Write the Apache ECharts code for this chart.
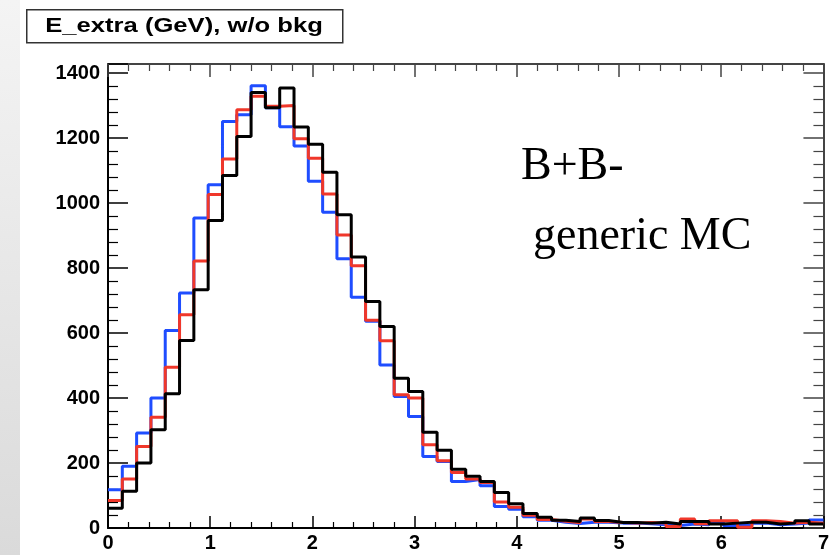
<!DOCTYPE html>
<html>
<head>
<meta charset="utf-8">
<script src="https://cdn.jsdelivr.net/npm/echarts@6/dist/echarts.min.js"></script>
<style>
html,body{margin:0;padding:0;background:#fff;}
#chart{width:832px;height:555px;}
</style>
</head>
<body>
<div id="chart"></div>
<script>
// Histogram: 50 bins from 0 to 7 GeV (bin width 0.14)
const xMin = 0;
const binWidth = 0.14;
const blueCounts = [118,190,292,400,608,723,954,1056,1251,1272,1361,1293,1235,1176,1067,972,829,710,636,502,405,343,220,205,143,149,130,66,58,35,24,18,14,18,18,15,15,13,10,8,12,10,20,8,8,15,10,12,15,25];
const redCounts = [85,151,251,341,495,656,822,1026,1136,1287,1329,1298,1300,1198,1138,1028,902,807,639,576,410,400,256,207,171,151,140,80,64,39,26,21,16,28,20,17,15,17,15,5,28,13,22,22,2,22,20,15,18,15];
const blackCounts = [61,113,200,302,413,577,733,946,1085,1205,1340,1293,1354,1234,1181,1095,964,834,697,620,461,420,295,239,181,159,143,109,75,45,33,24,20,31,23,17,17,15,18,12,20,20,12,15,18,18,12,15,22,12];
const xTicks = [0,1,2,3,4,5,6,7];
const yTicks = [0,200,400,600,800,1000,1200,1400];
const titleText = 'E_extra (GeV), w/o bkg';
const note1 = 'B+B-';
const note2 = 'generic MC';

function stepData(counts){
  const d = counts.map((v,i)=>[+(xMin+i*binWidth).toFixed(4), v]);
  d.push([+(xMin+counts.length*binWidth).toFixed(4), counts[counts.length-1]]);
  return d;
}

const chart = echarts.init(document.getElementById('chart'), null, {renderer:'canvas'});
const labelFont = {fontFamily:'Liberation Sans', fontWeight:'bold', fontSize:20, color:'#000'};
const yMax = 1428;
const option = {
  animation:false,
  backgroundColor:'#fff',
  grid:{left:108, right:1, top:64, bottom:27, show:false},
  xAxis:[
    {type:'value', min:xTicks[0], max:xTicks[xTicks.length-1], interval:1, position:'bottom',
     axisLine:{show:true, onZero:false, lineStyle:{color:'#000', width:2}},
     axisTick:{show:true, inside:true, length:12, lineStyle:{color:'#000', width:1.5}},
     minorTick:{show:true, splitNumber:5, length:6, lineStyle:{color:'#000', width:1.2}},
     axisLabel:Object.assign({margin:5}, labelFont),
     splitLine:{show:false}},
    {type:'value', min:xTicks[0], max:xTicks[xTicks.length-1], interval:1, position:'top',
     axisLine:{show:true, onZero:false, lineStyle:{color:'#444', width:2}},
     axisTick:{show:true, inside:true, length:13, lineStyle:{color:'#444', width:1.5}},
     minorTick:{show:true, splitNumber:5, length:7, lineStyle:{color:'#444', width:1.2}},
     axisLabel:{show:false}, splitLine:{show:false}}
  ],
  yAxis:[
    {type:'value', min:0, max:yMax, interval:200, position:'left',
     axisLine:{show:true, onZero:false, lineStyle:{color:'#000', width:2}},
     axisTick:{show:true, inside:true, length:20, lineStyle:{color:'#000', width:1.5}},
     minorTick:{show:true, splitNumber:5, length:10, lineStyle:{color:'#000', width:1.2}},
     axisLabel:Object.assign({margin:8, showMaxLabel:false, formatter:function(v){return yTicks.indexOf(v)>=0? String(v):'';}}, labelFont),
     splitLine:{show:false}},
    {type:'value', min:0, max:yMax, interval:200, position:'right',
     axisLine:{show:true, onZero:false, lineStyle:{color:'#444', width:2}},
     axisTick:{show:true, inside:true, length:20, lineStyle:{color:'#444', width:1.5}},
     minorTick:{show:true, splitNumber:5, length:10, lineStyle:{color:'#444', width:1.2}},
     axisLabel:{show:false}, splitLine:{show:false}}
  ],
  series:[
    {name:'blue', type:'line', step:'end', data:stepData(blueCounts), showSymbol:false, symbol:'none',
     lineStyle:{color:'#1f4dff', width:3}, z:2},
    {name:'red', type:'line', step:'end', data:stepData(redCounts), showSymbol:false, symbol:'none',
     lineStyle:{color:'#f0372a', width:3}, z:3},
    {name:'black', type:'line', step:'end', data:stepData(blackCounts), showSymbol:false, symbol:'none',
     lineStyle:{color:'#000', width:3}, z:4}
  ],
  graphic:[
    {type:'rect', left:0, top:0, z:-1, shape:{width:20, height:555},
     style:{fill:new echarts.graphic.LinearGradient(0,0,0,1,[{offset:0,color:'#f4f4f4'},{offset:1,color:'#dadada'}])}},
    {type:'rect', left:26, top:9, z:10, shape:{width:316, height:33},
     style:{fill:'#fff', stroke:'#333', lineWidth:1.5}},
    {type:'text', x:184, y:26, z:11, scaleX:1.22, originX:0, originY:0,
     style:{text:titleText, font:'bold 21px "Liberation Sans"', fill:'#000', align:'center', verticalAlign:'middle'}},
    {type:'text', x:521, y:167, z:11,
     style:{text:note1, font:'46px "Liberation Serif"', fill:'#000', align:'left', verticalAlign:'middle'}},
    {type:'text', x:533, y:237, z:11,
     style:{text:note2, font:'46px "Liberation Serif"', fill:'#000', align:'left', verticalAlign:'middle'}}
  ]
};
chart.setOption(option);
</script>
</body>
</html>
